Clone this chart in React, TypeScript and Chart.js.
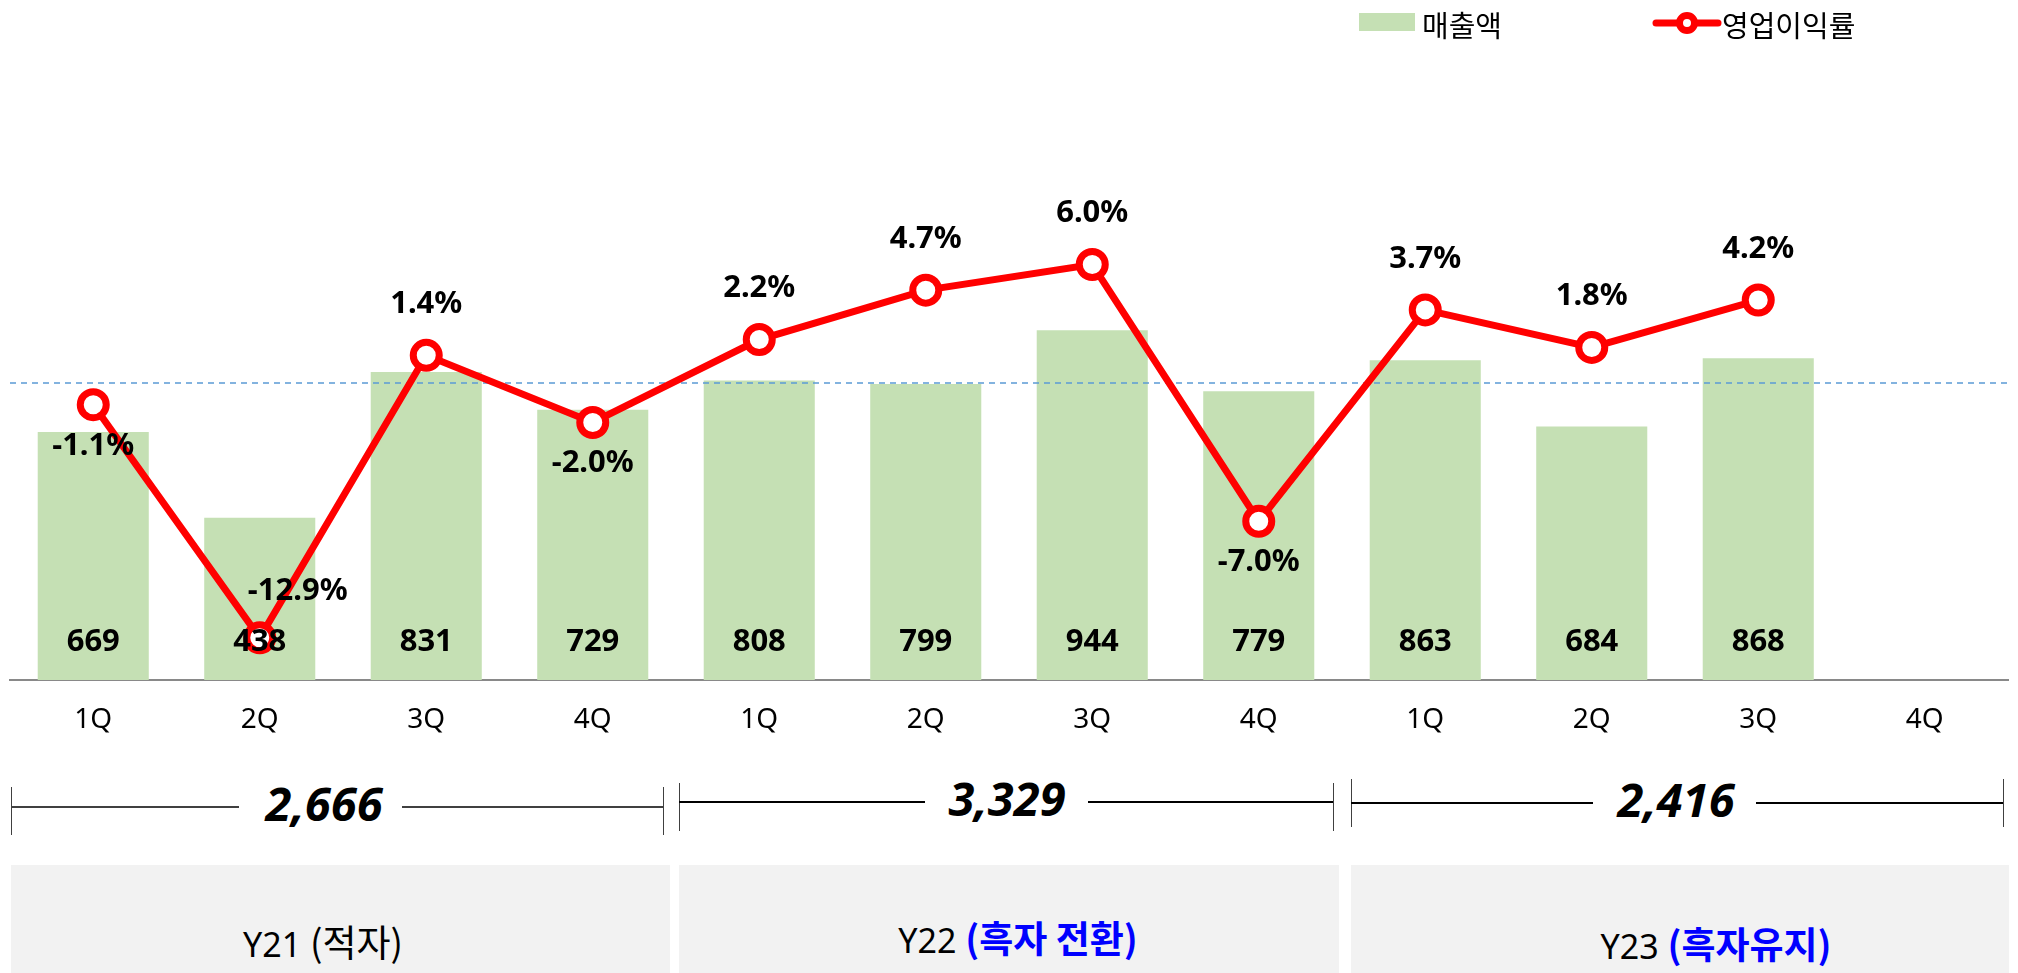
import React, { useEffect, useRef } from "react";
import { Chart, registerables } from "chart.js";

Chart.register(...registerables);

// ---------- data ----------
const quarters = ["1Q", "2Q", "3Q", "4Q", "1Q", "2Q", "3Q", "4Q", "1Q", "2Q", "3Q", "4Q"];
const sales = [669, 438, 831, 729, 808, 799, 944, 779, 863, 684, 868, null];
const margin = [-1.1, -12.9, 1.4, -2.0, 2.2, 4.7, 6.0, -7.0, 3.7, 1.8, 4.2, null];
const marginLabelPlace = ["below", "aboveRight", "above", "below", "above", "above", "above", "below", "above", "above", "above", null];
const years = ["Y21", "Y22", "Y23"];
const yearNotes = ["(적자)", "(흑자 전환)", "(흑자유지)"];
const yearTotals = ["2,666", "3,329", "2,416"];
const legendLabels = ["매출액", "영업이익률"];

// ---------- styling / layout ----------
const FONT = '"Noto Sans", "Noto Sans CJK KR", sans-serif';
const KFONT = '"Noto Sans CJK KR", "Noto Sans", sans-serif';
const BAR_COLOR = "#C5E0B4";
const LINE_COLOR = "#FF0000";

const bracketLayout = [
  { left: 11, right: 663, y: 807, top: 787, bottom: 835, gapL: 239, gapR: 402, textX: 324, color: "#404040", w: 1.5 },
  { left: 679, right: 1333, y: 802, top: 783, bottom: 831, gapL: 925, gapR: 1088, textX: 1007, color: "#000", w: 2 },
  { left: 1351, right: 2003, y: 803, top: 779, bottom: 827, gapL: 1593, gapR: 1756, textX: 1676, color: "#000", w: 2 },
];
const boxLayout = [
  { left: 11, right: 670, cx: 323, cy: 941, noteColor: "#000", noteBold: false },
  { left: 679, right: 1339, cx: 1018, cy: 937, noteColor: "#0000FF", noteBold: true },
  { left: 1351, right: 2009, cx: 1716, cy: 943, noteColor: "#0000FF", noteBold: true },
];

const labelPlugin = {
  id: "customLabels",
  afterDatasetDraw(chart: any, args: any) {
    if (args.index !== 0) return;
    const { ctx, chartArea, scales } = chart;
    const y0 = scales.y2.getPixelForValue(0);
    ctx.save();
    ctx.strokeStyle = "#5B9BD5";
    ctx.lineWidth = 1.5;
    ctx.setLineDash([6, 5]);
    ctx.beginPath();
    ctx.moveTo(chartArea.left, y0);
    ctx.lineTo(chartArea.right, y0);
    ctx.stroke();
    ctx.restore();
  },
  afterDatasetsDraw(chart: any) {
    const { ctx, chartArea } = chart;
    ctx.save();
    ctx.fillStyle = "#000";
    ctx.textAlign = "center";
    ctx.textBaseline = "middle";
    ctx.font = `bold 31px ${FONT}`;
    const barMeta = chart.getDatasetMeta(0);
    barMeta.data.forEach((el: any, i: number) => {
      const v = sales[i];
      if (v == null) return;
      ctx.fillText(String(v), el.x, chartArea.bottom - 37.5);
    });
    const lineMeta = chart.getDatasetMeta(1);
    lineMeta.data.forEach((el: any, i: number) => {
      const v = margin[i];
      if (v == null) return;
      const place = marginLabelPlace[i];
      let x = el.x;
      let y = el.y;
      if (place === "above") y -= 51;
      else if (place === "below") y += 41;
      else if (place === "aboveRight") {
        x += 38;
        y -= 47;
      }
      ctx.fillText(v.toFixed(1) + "%", x, y);
    });
    ctx.restore();
  },
};

export default function App() {
  const canvasRef = useRef<HTMLCanvasElement | null>(null);

  useEffect(() => {
    document.body.style.margin = "0";
    const canvas = canvasRef.current;
    if (!canvas) return;
    const chart = new Chart(canvas, {
      type: "bar",
      data: {
        labels: quarters,
        datasets: [
          {
            type: "bar",
            label: legendLabels[0],
            data: sales as any,
            backgroundColor: BAR_COLOR,
            borderWidth: 0,
            categoryPercentage: 1,
            barPercentage: 0.667,
            yAxisID: "y",
            order: 1,
          },
          {
            type: "line",
            label: legendLabels[1],
            data: margin as any,
            borderColor: LINE_COLOR,
            borderWidth: 7,
            pointRadius: 13,
            pointBorderWidth: 7,
            pointBackgroundColor: "#FFFFFF",
            pointBorderColor: LINE_COLOR,
            tension: 0,
            yAxisID: "y2",
            order: 0,
          },
        ],
      },
      options: {
        responsive: false,
        animation: false,
        devicePixelRatio: 1,
        layout: { autoPadding: false, padding: { left: 10, right: 10, top: 50, bottom: 0 } },
        plugins: {
          legend: { display: false },
          tooltip: { enabled: false },
        },
        scales: {
          x: {
            grid: { display: false, drawTicks: false },
            border: { display: true, color: "#898989", width: 2 },
            ticks: { color: "#000", font: { family: FONT, size: 28 }, padding: 23, maxRotation: 0, autoSkip: false },
            afterFit: (scale: any) => {
              scale.height = 80;
            },
          },
          y: { display: false, min: 0, max: 1700 },
          y2: { display: false, min: -15.04, max: 16.86 },
        },
      },
      plugins: [labelPlugin],
    } as any);
    return () => chart.destroy();
  }, []);

  return (
    <div style={{ position: "relative", width: 2018, height: 973, overflow: "hidden", background: "#fff" }}>
      <canvas ref={canvasRef} width={2018} height={760} style={{ position: "absolute", left: 0, top: 0, width: 2018, height: 760 }} />

      {/* legend */}
      <div style={{ position: "absolute", left: 1359, top: 13, width: 56, height: 18, background: BAR_COLOR }} />
      <div style={{ position: "absolute", left: 1422, top: 24, transform: "translateY(-50%)", font: `29px ${KFONT}`, lineHeight: 1, color: "#000", whiteSpace: "nowrap" }}>
        {legendLabels[0]}
      </div>
      <svg style={{ position: "absolute", left: 1652, top: 9 }} width={72} height={28}>
        <line x1={4} y1={14} x2={66} y2={14} stroke={LINE_COLOR} strokeWidth={7} strokeLinecap="round" />
        <circle cx={35} cy={14} r={7.5} fill="#fff" stroke={LINE_COLOR} strokeWidth={7} />
      </svg>
      <div style={{ position: "absolute", left: 1722, top: 24, transform: "translateY(-50%)", font: `29px ${KFONT}`, lineHeight: 1, color: "#000", whiteSpace: "nowrap" }}>
        {legendLabels[1]}
      </div>

      {/* yearly total brackets */}
      {bracketLayout.map((b, i) => (
        <React.Fragment key={"br" + i}>
          <div style={{ position: "absolute", left: b.left, top: b.top, width: 1, height: b.bottom - b.top, background: "#404040" }} />
          <div style={{ position: "absolute", left: b.right, top: b.top, width: 1, height: b.bottom - b.top, background: "#404040" }} />
          <div style={{ position: "absolute", left: b.left, top: b.y - b.w / 2, width: b.gapL - b.left, height: b.w, background: b.color }} />
          <div style={{ position: "absolute", left: b.gapR, top: b.y - b.w / 2, width: b.right - b.gapR, height: b.w, background: b.color }} />
          <div
            style={{
              position: "absolute",
              left: b.textX,
              top: b.y - 4,
              transform: "translate(-50%, -50%)",
              font: `italic bold 47px ${FONT}`,
              lineHeight: 1,
              color: "#000",
              whiteSpace: "nowrap",
            }}
          >
            {yearTotals[i]}
          </div>
        </React.Fragment>
      ))}

      {/* year boxes */}
      {boxLayout.map((b, i) => (
        <React.Fragment key={"bx" + i}>
          <div style={{ position: "absolute", left: b.left, top: 865, width: b.right - b.left, height: 120, background: "#F2F2F2" }} />
          <div
            style={{
              position: "absolute",
              left: b.cx,
              top: b.cy,
              transform: "translate(-50%, -50%)",
              lineHeight: 1,
              whiteSpace: "nowrap",
              color: "#000",
            }}
          >
            <span style={{ font: `34px ${FONT}` }}>{years[i]} </span>
            <span style={{ font: `${b.noteBold ? "bold " : ""}37px ${KFONT}`, color: b.noteColor }}>{yearNotes[i]}</span>
          </div>
        </React.Fragment>
      ))}
    </div>
  );
}
